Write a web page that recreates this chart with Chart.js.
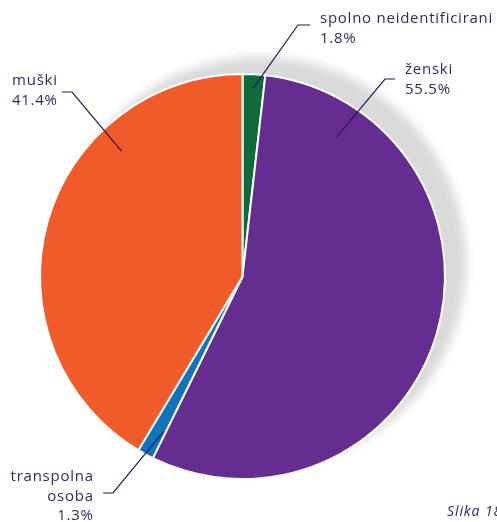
<!DOCTYPE html>
<html>
<head>
<meta charset="utf-8">
<script src="https://cdn.jsdelivr.net/npm/chart.js@4"></script>
<style>
html,body{margin:0;padding:0;background:#fff;}
#wrap{width:497px;height:522px;position:relative;}
</style>
</head>
<body>
<div id="wrap"><canvas id="c" width="497" height="522"></canvas></div>
<script>
const categories = ["spolno neidentificirani", "ženski", "transpolna osoba", "muški"];
const values = [1.8, 55.5, 1.3, 41.4];
const colors = ["#116a3a", "#652d8f", "#0f74bb", "#f15a29"];
const labelLines = [["spolno neidentificirani"], ["ženski"], ["transpolna", "osoba"], ["muški"]];

const TEXT_COLOR = "#2b2a6a";
const FONT = "15px 'Open Sans', sans-serif";

// label layout (leader anchors relative to pie, text placement in px)
const layout = [
  {angle: 3.2,   rf: 0.93, elbow: [298, 25], tail: [310, 25], tx: 320, ty: 19, align: "left"},
  {angle: 34,    rf: 0.83, elbow: [385, 79], tail: [395, 79], tx: 405, ty: 70, align: "left"},
  {angle: 207,   rf: 0.86, elbow: [113, 493], tail: [103, 493], tx: 93, ty: 477, align: "right"},
  {angle: 316,   rf: 0.86, elbow: [72, 92], tail: [62, 92], tx: 57, ty: 81, align: "right"}
];

const shadowPlugin = {
  id: "shadow",
  beforeDatasetsDraw(chart) {
    const arc = chart.getDatasetMeta(0).data[0];
    if (!arc) return;
    const {x, y, outerRadius} = arc.getProps(["x", "y", "outerRadius"], true);
    const ctx = chart.ctx;
    ctx.save();
    ctx.filter = "blur(5px)";
    ctx.fillStyle = "#d9d9d9";
    ctx.beginPath();
    ctx.arc(x + 18, y - 14, outerRadius + 3, 0, Math.PI * 2);
    ctx.fill();
    ctx.restore();
  }
};

function drawSpaced(ctx, text, x, y, align, spacing) {
  if ('letterSpacing' in ctx) {
    ctx.letterSpacing = spacing + "px";
    let w = ctx.measureText(text).width;
    ctx.textAlign = "left";
    const sx = align === "right" ? x - w + spacing : x;
    ctx.fillText(text, sx, y);
    ctx.letterSpacing = "0px";
  } else {
    ctx.textAlign = align;
    ctx.fillText(text, x, y);
  }
}

const labelPlugin = {
  id: "labels",
  afterDatasetsDraw(chart) {
    const meta = chart.getDatasetMeta(0);
    const ctx = chart.ctx;
    ctx.save();
    meta.data.forEach((arc, i) => {
      const {x, y, outerRadius} = arc.getProps(["x", "y", "outerRadius"], true);
      const L = layout[i];
      const a = (L.angle - 90) * Math.PI / 180;
      const ax = x + Math.cos(a) * outerRadius * L.rf;
      const ay = y + Math.sin(a) * outerRadius * L.rf;
      ctx.strokeStyle = "#1c1a5a";
      ctx.lineWidth = 1.2;
      ctx.beginPath();
      ctx.moveTo(L.tail[0], L.tail[1]);
      ctx.lineTo(L.elbow[0], L.elbow[1]);
      ctx.lineTo(ax, ay);
      ctx.stroke();
      const lines = labelLines[i].concat([values[i].toFixed(1) + "%"]);
      ctx.fillStyle = TEXT_COLOR;
      ctx.font = FONT;
      ctx.textBaseline = "middle";
      lines.forEach((t, k) => drawSpaced(ctx, t, L.tx, L.ty + k * 19.5, L.align, 0.75));
    });
    // caption
    ctx.font = "italic 14px 'Open Sans', sans-serif";
    ctx.textBaseline = "middle";
    ctx.fillStyle = TEXT_COLOR;
    drawSpaced(ctx, "Slika 18", 447, 512, "left", 0.9);
    ctx.restore();
  }
};

new Chart(document.getElementById("c"), {
  type: "pie",
  data: {
    labels: categories,
    datasets: [{
      data: values,
      backgroundColor: colors,
      borderColor: "#ffffff",
      borderWidth: 2
    }]
  },
  options: {
    responsive: false,
    animation: false,
    layout: {padding: {left: 39, right: 51, top: 73, bottom: 42}},
    plugins: {legend: {display: false}, tooltip: {enabled: false}}
  },
  plugins: [shadowPlugin, labelPlugin]
});
</script>
</body>
</html>
